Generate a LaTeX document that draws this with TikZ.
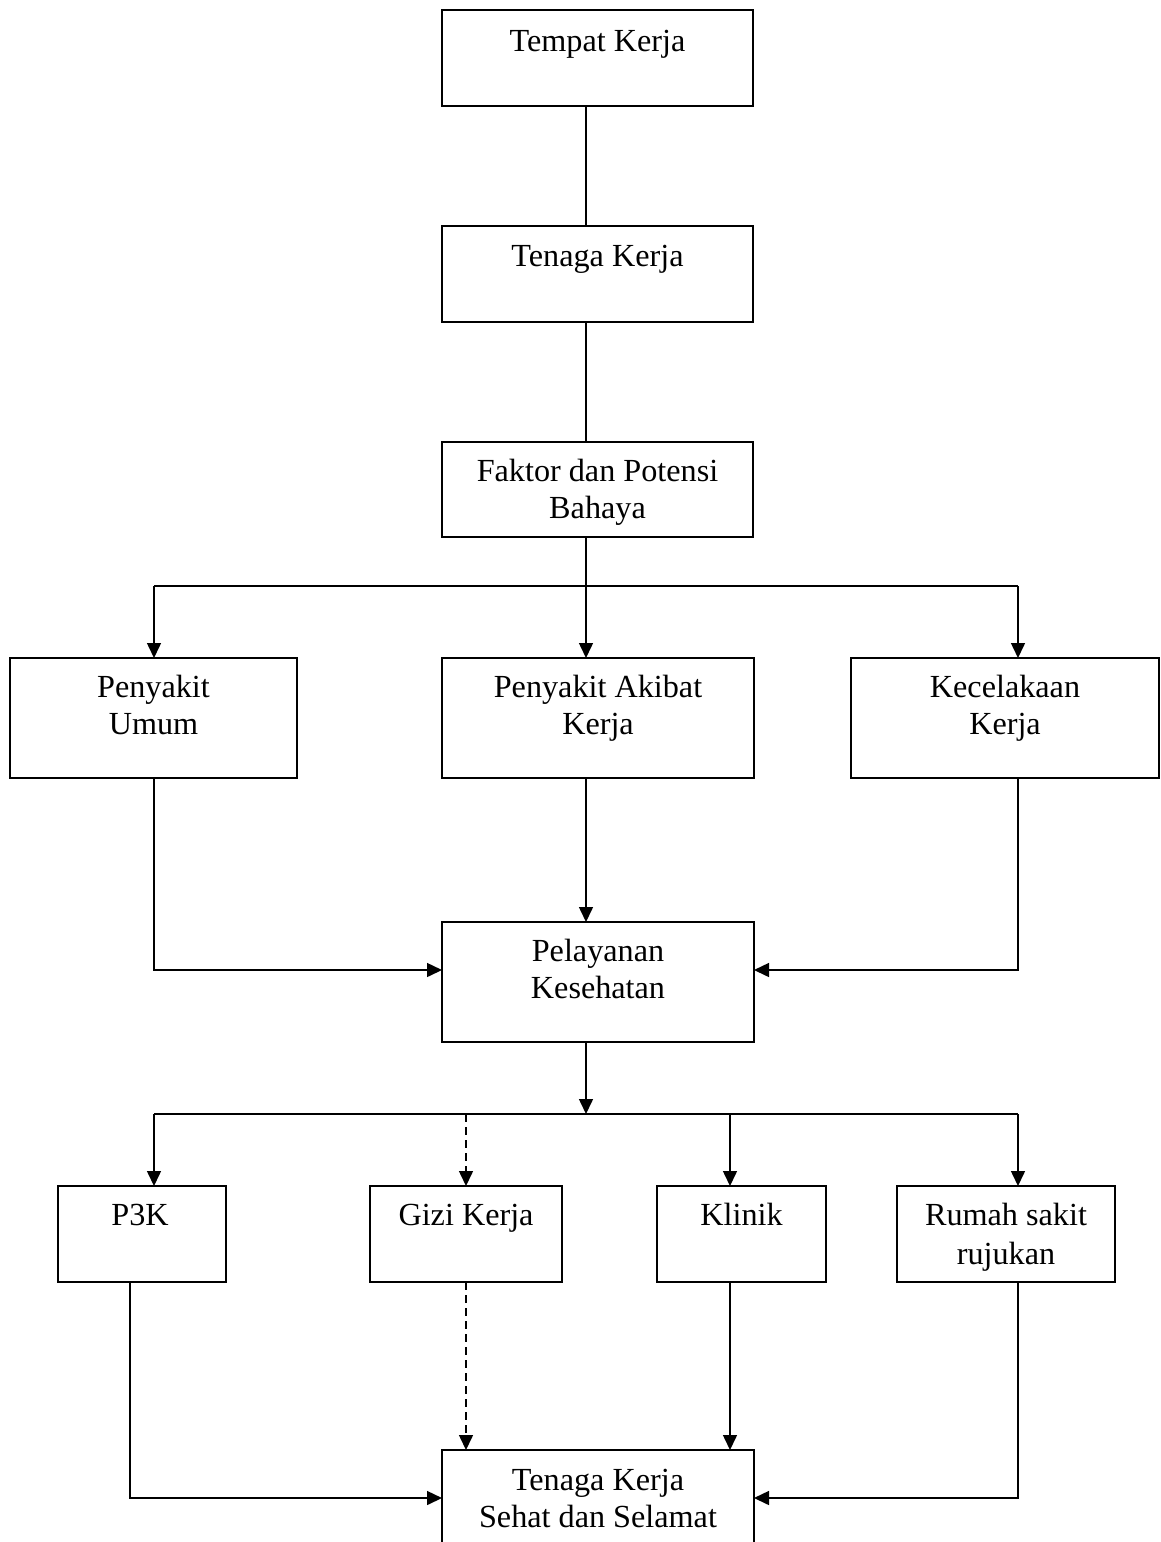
\documentclass[tikz,border=0pt]{standalone}
\usepackage{fontspec}
\setmainfont{Liberation Serif}
\usetikzlibrary{arrows.meta,calc}
\tikzset{
 box/.style={draw, line width=1.8pt, rectangle, inner sep=0pt, outer sep=0pt, anchor=north west},
 lbl/.style={font=\fontsize{32.2}{37}\selectfont, align=center, anchor=base, inner sep=0pt},
 conn/.style={line width=1.5pt},
 arr/.style={conn, -{Triangle[length=15pt,width=14pt]}},
 darr/.style={arr, dash pattern=on 8pt off 5pt},
}
\newcommand\mkbox[5]{\node[box, minimum width={#4-#2}, minimum height={#5-#3}] (#1) at (#2,#3) {};}
\begin{document}
\begin{tikzpicture}[x=1pt,y=-1pt]
\useasboundingbox (0,0) rectangle (1160,1542);
\fill[white] (0,0) rectangle (1160,1542);
\mkbox{tempat}{442}{10}{753}{106}
\mkbox{tenaga}{442}{226}{753}{322}
\mkbox{faktor}{442}{442}{753}{537}
\mkbox{umum}{10}{658}{297}{778}
\mkbox{akibat}{442}{658}{754}{778}
\mkbox{kecel}{851}{658}{1159}{778}
\mkbox{pel}{442}{922}{754}{1042}
\mkbox{p3k}{58}{1186}{226}{1282}
\mkbox{gizi}{370}{1186}{562}{1282}
\mkbox{klinik}{657}{1186}{826}{1282}
\mkbox{rumah}{897}{1186}{1115}{1282}
\mkbox{sehat}{442}{1450}{754}{1600}
\node[lbl] (tempat-t) at ($(tempat.north)+(0,41)$) {Tempat Kerja};
\node[lbl] (tenaga-t) at ($(tenaga.north)+(0,40)$) {Tenaga Kerja};
\node[lbl] (faktor-t) at ($(faktor.north)+(0,76)$) {Faktor dan Potensi\\Bahaya};
\node[lbl] (umum-t) at ($(umum.north)+(0,76)$) {Penyakit\\Umum};
\node[lbl] (akibat-t) at ($(akibat.north)+(0,76)$) {Penyakit Akibat\\Kerja};
\node[lbl] (kecel-t) at ($(kecel.north)+(0,76)$) {Kecelakaan\\Kerja};
\node[lbl] (pel-t) at ($(pel.north)+(0,76)$) {Pelayanan\\Kesehatan};
\node[lbl] (p3k-t) at ($(p3k.north)+(-2,39)$) {P3K};
\node[lbl] (gizi-t) at ($(gizi.north)+(0,39)$) {Gizi Kerja};
\node[lbl] (klinik-t) at ($(klinik.north)+(0,39)$) {Klinik};
\node[lbl, font=\fontsize{32.2}{39}\selectfont] (rumah-t) at ($(rumah.north)+(0,78)$) {Rumah sakit\\rujukan};
\node[lbl] (sehat-t) at ($(sehat.north)+(0,77)$) {Tenaga Kerja\\Sehat dan Selamat};
\coordinate (xm) at (586,0);
\coordinate (xl) at (154,0);
\coordinate (xr) at (1018,0);
\coordinate (xa) at (130,0);
\coordinate (xg) at (466,0);
\coordinate (xk) at (730,0);
\coordinate (y1) at (0,586);
\coordinate (y2) at (0,970);
\coordinate (y3) at (0,1114);
\coordinate (y4) at (0,1498);
\draw[conn] (tempat.south -| xm) -- (tenaga.north -| xm);
\draw[conn] (tenaga.south -| xm) -- (faktor.north -| xm);
\draw[conn] (faktor.south -| xm) -- (xm |- y1);
\draw[conn] (xl |- y1) -- (xr |- y1);
\draw[arr] (xl |- y1) -- (umum.north -| xl);
\draw[arr] (xm |- y1) -- (akibat.north -| xm);
\draw[arr] (xr |- y1) -- (kecel.north -| xr);
\draw[arr] (umum.south -| xl) |- (pel.west |- y2);
\draw[arr] (akibat.south -| xm) -- (pel.north -| xm);
\draw[arr] (kecel.south -| xr) |- (pel.east |- y2);
\draw[arr] (pel.south -| xm) -- (xm |- y3);
\draw[conn] (xl |- y3) -- (xr |- y3);
\draw[arr] (xl |- y3) -- (p3k.north -| xl);
\draw[darr] (xg |- y3) -- (gizi.north -| xg);
\draw[arr] (xk |- y3) -- (klinik.north -| xk);
\draw[arr] (xr |- y3) -- (rumah.north -| xr);
\draw[arr] (p3k.south -| xa) |- (sehat.west |- y4);
\draw[darr] (gizi.south -| xg) -- (sehat.north -| xg);
\draw[arr] (klinik.south -| xk) -- (sehat.north -| xk);
\draw[arr] (rumah.south -| xr) |- (sehat.east |- y4);
\end{tikzpicture}
\end{document}
